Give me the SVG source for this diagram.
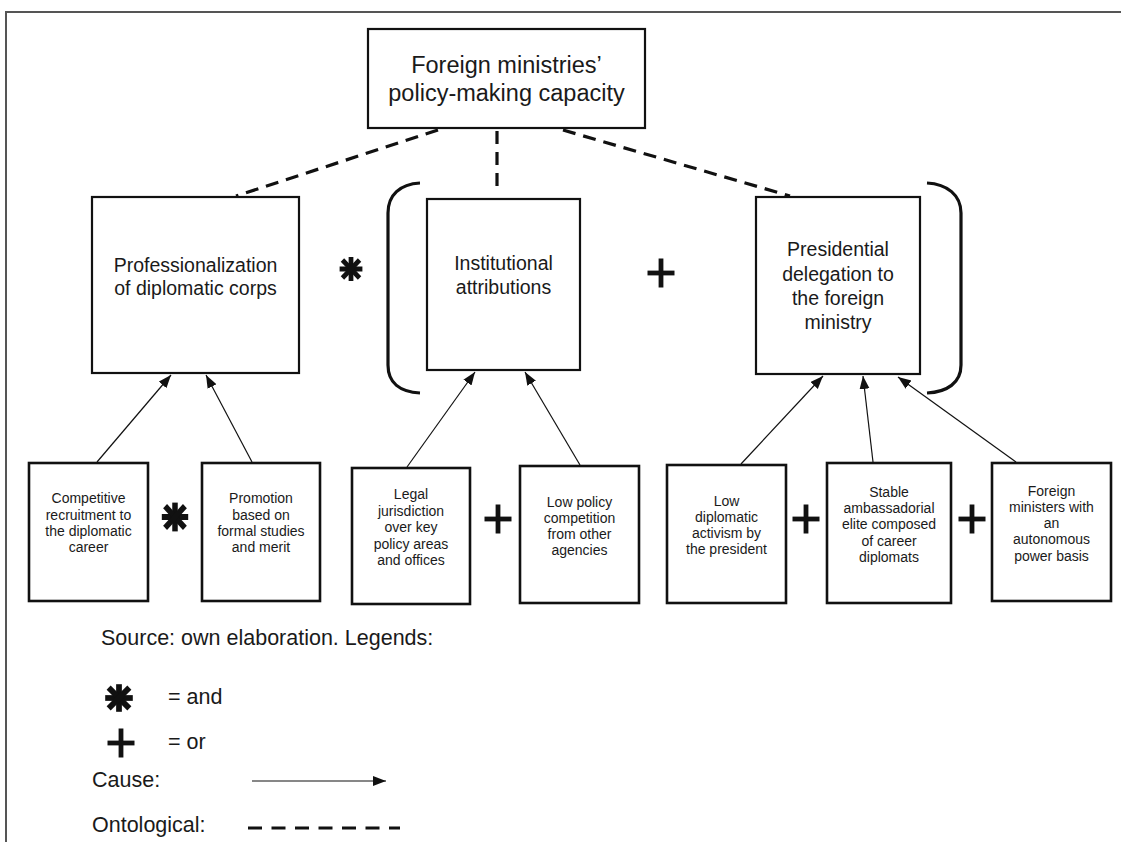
<svg xmlns="http://www.w3.org/2000/svg" width="1121" height="842" viewBox="0 0 1121 842">
<style>
.bg{fill:#fff}
.frame{fill:none;stroke:#555;stroke-width:2}
.box{fill:#fff;stroke:#111;stroke-width:2.2}
.sbox{fill:#fff;stroke:#111;stroke-width:2.6}
.t{font-family:"Liberation Sans",Arial,Helvetica,sans-serif;fill:#1a1a1a;text-anchor:middle}
.t1{font-size:23.5px}
.t2{font-size:19.5px}
.t3{font-size:14px}
.lg{font-family:"Liberation Sans",Arial,Helvetica,sans-serif;fill:#1a1a1a;font-size:21.5px}
.onto{fill:none;stroke:#111;stroke-width:3.2;stroke-dasharray:13 8}
.cause{fill:none;stroke:#111;stroke-width:1.2;marker-end:url(#ah)}
.br{fill:none;stroke:#111;stroke-width:3.2}
.sym{stroke:#111;fill:none}
</style>
<defs>
<marker id="ah" markerUnits="userSpaceOnUse" markerWidth="14" markerHeight="12" refX="13" refY="5" orient="auto">
<path d="M0,0 L13,5 L0,10 z" fill="#111"/>
</marker>
<g id="star" class="sym" stroke-width="5">
<line x1="0" y1="-12" x2="0" y2="12"/>
<line x1="-12" y1="0" x2="12" y2="0"/>
<line x1="-9" y1="-9" x2="9" y2="9"/>
<line x1="-9" y1="9" x2="9" y2="-9"/>
</g>
<g id="plus" class="sym" stroke-width="4.8">
<line x1="0" y1="-14.5" x2="0" y2="14.5"/>
<line x1="-13.5" y1="0" x2="13.5" y2="0"/>
</g>
</defs>
<rect class="bg" x="0" y="0" width="1121" height="842"/>
<path class="frame" d="M6,842 L6,12 L1121,12"/>

<g id="connectors">
<line class="onto" x1="438" y1="130" x2="236" y2="196"/>
<line class="onto" x1="497" y1="131" x2="497" y2="192"/>
<line class="onto" x1="563" y1="130" x2="790" y2="196"/>
<line class="cause" x1="97" y1="462" x2="171" y2="375"/>
<line class="cause" x1="252" y1="462" x2="206" y2="375"/>
<line class="cause" x1="407" y1="467" x2="475" y2="372"/>
<line class="cause" x1="580" y1="465" x2="525" y2="372"/>
<line class="cause" x1="741" y1="464" x2="823" y2="376"/>
<line class="cause" x1="873" y1="462" x2="863" y2="376"/>
<line class="cause" x1="1016" y1="462" x2="898" y2="377"/>
</g>

<g id="node-top">
<rect class="box" x="368" y="29" width="277" height="99"/>
<text class="t t1" x="506.5" y="73">Foreign ministries’</text>
<text class="t t1" x="506.5" y="101">policy-making capacity</text>
</g>

<g id="node-prof">
<rect class="box" x="92" y="197" width="207" height="176"/>
<text class="t t2" x="195.5" y="272">Professionalization</text>
<text class="t t2" x="195.5" y="295">of diplomatic corps</text>
</g>

<g id="node-inst">
<rect class="box" x="427" y="199" width="153" height="171"/>
<text class="t t2" x="503.5" y="270">Institutional</text>
<text class="t t2" x="503.5" y="294">attributions</text>
</g>

<g id="node-pres">
<rect class="box" x="756" y="197" width="164" height="177"/>
<text class="t t2" x="838" y="256">Presidential</text>
<text class="t t2" x="838" y="281">delegation to</text>
<text class="t t2" x="838" y="305">the foreign</text>
<text class="t t2" x="838" y="329">ministry</text>
</g>

<g id="brackets">
<path class="br" d="M420,183 C400,184 388,195 388,213 L388,365 C388,383 400,392 420,393"/>
<path class="br" d="M927,183 C947,184 961,195 961,213 L961,365 C961,383 947,392 927,393"/>
</g>

<g id="operators">
<use href="#star" transform="translate(351,269) scale(0.95,1)"/>
<use href="#plus" transform="translate(661,273)"/>
<use href="#star" transform="translate(175,517) scale(1.1,1.2)"/>
<use href="#plus" transform="translate(498,519)"/>
<use href="#plus" transform="translate(806,519)"/>
<use href="#plus" transform="translate(972,519)"/>
</g>

<g id="node-b1">
<rect class="sbox" x="29" y="463" width="119" height="138"/>
<text class="t t3" x="88.5" y="503">Competitive</text>
<text class="t t3" x="88.5" y="519.5">recruitment to</text>
<text class="t t3" x="88.5" y="536">the diplomatic</text>
<text class="t t3" x="88.5" y="552">career</text>
</g>
<g id="node-b2">
<rect class="sbox" x="202" y="463" width="118" height="138"/>
<text class="t t3" x="261" y="503">Promotion</text>
<text class="t t3" x="261" y="519.5">based on</text>
<text class="t t3" x="261" y="536">formal studies</text>
<text class="t t3" x="261" y="552">and merit</text>
</g>
<g id="node-b3">
<rect class="sbox" x="352" y="468" width="118" height="136"/>
<text class="t t3" x="411" y="499">Legal</text>
<text class="t t3" x="411" y="516">jurisdiction</text>
<text class="t t3" x="411" y="532">over key</text>
<text class="t t3" x="411" y="549">policy areas</text>
<text class="t t3" x="411" y="565">and offices</text>
</g>
<g id="node-b4">
<rect class="sbox" x="520" y="466" width="119" height="137"/>
<text class="t t3" x="579.5" y="507">Low policy</text>
<text class="t t3" x="579.5" y="523">competition</text>
<text class="t t3" x="579.5" y="539">from other</text>
<text class="t t3" x="579.5" y="555">agencies</text>
</g>
<g id="node-b5">
<rect class="sbox" x="667" y="465" width="119" height="138"/>
<text class="t t3" x="726.5" y="506">Low</text>
<text class="t t3" x="726.5" y="522">diplomatic</text>
<text class="t t3" x="726.5" y="538">activism by</text>
<text class="t t3" x="726.5" y="554">the president</text>
</g>
<g id="node-b6">
<rect class="sbox" x="827" y="463" width="124" height="140"/>
<text class="t t3" x="889" y="497">Stable</text>
<text class="t t3" x="889" y="513">ambassadorial</text>
<text class="t t3" x="889" y="529">elite composed</text>
<text class="t t3" x="889" y="546">of career</text>
<text class="t t3" x="889" y="562">diplomats</text>
</g>
<g id="node-b7">
<rect class="sbox" x="992" y="463" width="119" height="138"/>
<text class="t t3" x="1051.5" y="496">Foreign</text>
<text class="t t3" x="1051.5" y="512">ministers with</text>
<text class="t t3" x="1051.5" y="528">an</text>
<text class="t t3" x="1051.5" y="544">autonomous</text>
<text class="t t3" x="1051.5" y="561">power basis</text>
</g>

<g id="legend">
<text class="lg" x="101" y="645">Source: own elaboration. Legends:</text>
<use href="#star" transform="translate(119,698) scale(1.15)"/>
<text class="lg" x="168" y="704">= and</text>
<use href="#plus" transform="translate(121,743)"/>
<text class="lg" x="168" y="749">= or</text>
<text class="lg" x="92" y="787">Cause:</text>
<line class="cause" x1="252" y1="781" x2="386" y2="781"/>
<text class="lg" x="92" y="832">Ontological:</text>
<line class="onto" x1="248" y1="828" x2="400" y2="828" style="stroke-dasharray:14 9.5"/>
</g>
</svg>
